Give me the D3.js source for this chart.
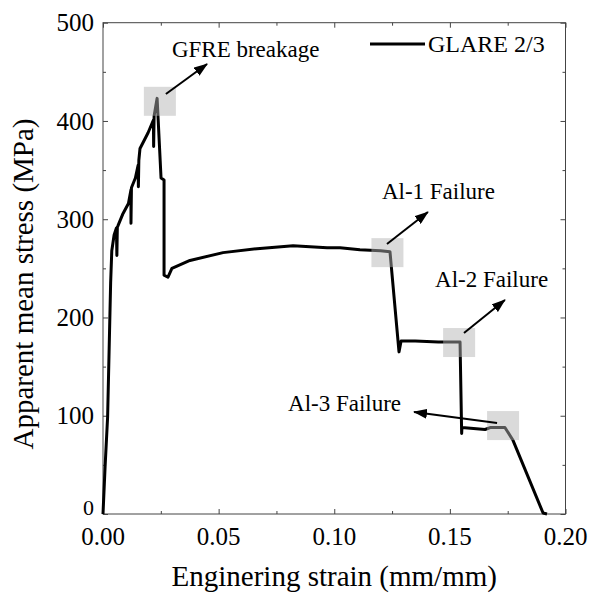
<!DOCTYPE html>
<html><head><meta charset="utf-8">
<script src="https://cdn.jsdelivr.net/npm/d3@7"></script>
<style>
body{margin:0;background:#fff}
svg{display:block}
text{font-family:"Liberation Serif","Times New Roman",serif;fill:#000}
</style>
</head><body>
<svg id="c" width="589" height="593"></svg>
<script>
// ---- data ----
const strain = [0, 0.0009, 0.002, 0.0033, 0.0038, 0.0048, 0.0058, 0.0060, 0.0062, 0.0064, 0.0085, 0.0110, 0.0121, 0.0121, 0.0123,
  0.0140, 0.0152, 0.0153, 0.0155, 0.0160, 0.0195, 0.0218, 0.0219, 0.0221, 0.0234,
  0.0251, 0.0264, 0.0264, 0.0281, 0.0298, 0.0376, 0.0519, 0.0666, 0.0822, 0.0969, 0.1025,
  0.1111, 0.1200, 0.1241, 0.1280, 0.1289, 0.1350, 0.1450, 0.1544, 0.1551, 0.1552, 0.1652, 0.1674, 0.1738, 0.1773, 0.1903, 0.1920];
const stress = [0, 48, 99, 235, 268, 284, 291, 263, 292, 293, 305, 316, 330, 296, 332,
  342, 355, 333, 360, 372, 388, 401, 374, 405, 423,
  342, 340, 243, 241, 250, 258, 266, 270, 273, 271, 271,
  269, 268, 267, 165, 176, 176, 175, 175, 82, 88, 86, 88, 88, 75, 1, 0];
const seriesName = "GLARE 2/3";
const xTickValues = [0, 0.05, 0.10, 0.15, 0.20];
const xMinorTicks = [0.025, 0.075, 0.125, 0.175];
const yTickValues = [0, 100, 200, 300, 400, 500];
const yMinorTicks = [50, 150, 250, 350, 450];
const xTitle = "Enginering strain (mm/mm)";
const yTitle = "Apparent mean stress (MPa)";
// annotations: label, label anchor (strain, stress), arrow from -> to, highlight box centre
const annLabels = ["GFRE breakage", "Al-1 Failure", "Al-2 Failure", "Al-3 Failure"];
const annLabelX = [0.0298, 0.1206, 0.1436, 0.1289];
const annLabelY = [465, 320.6, 231, 104.8];
const annAnchor = ["start", "start", "start", "end"];
const arrowFromX = [0.0272, 0.1228, 0.1561, 0.1704];
const arrowFromY = [427.4, 274.8, 184.2, 92.6];
const arrowToX = [0.0450, 0.1405, 0.1738, 0.1345];
const arrowToY = [458, 307.3, 217.8, 103.8];
const boxX = [0.0246, 0.1230, 0.1540, 0.1730];
const boxY = [420, 266, 174.5, 90];

// ---- layout ----
const L = 103, R = 565.5, T = 22.7, B = 514;
const svg = d3.select("#c");
const x = d3.scaleLinear().domain([0, 0.2]).range([L, R]);
const y = d3.scaleLinear().domain([0, 500]).range([B, T]);

// frame
svg.append("rect").attr("x", L).attr("y", T).attr("width", R - L).attr("height", B - T)
  .attr("fill", "none").attr("stroke", "#444").attr("stroke-width", 1);

function ticks(axisGen, vals, size, tr) {
  const g = svg.append("g").attr("transform", tr)
    .call(axisGen.tickValues(vals).tickSizeInner(size).tickSizeOuter(0).tickFormat(""));
  g.select(".domain").remove();
  g.selectAll(".tick line").attr("stroke", "#444");
  return g;
}
// inward ticks on all four sides
ticks(d3.axisBottom(x), xTickValues, -5, `translate(0,${B})`);
ticks(d3.axisBottom(x), xMinorTicks, -3, `translate(0,${B})`);
ticks(d3.axisTop(x), xTickValues, -5, `translate(0,${T})`);
ticks(d3.axisTop(x), xMinorTicks, -3, `translate(0,${T})`);
ticks(d3.axisLeft(y), yTickValues, -5, `translate(${L},0)`);
ticks(d3.axisLeft(y), yMinorTicks, -3, `translate(${L},0)`);
ticks(d3.axisRight(y), yTickValues, -5, `translate(${R},0)`);
ticks(d3.axisRight(y), yMinorTicks, -3, `translate(${R},0)`);

// tick labels
svg.append("g").selectAll("text").data(xTickValues).join("text")
  .attr("x", d => x(d)).attr("y", B + 31).attr("text-anchor", "middle")
  .attr("font-size", 25).text(d => d3.format(".2f")(d));
svg.append("g").selectAll("text").data(yTickValues).join("text")
  .attr("x", L - 9).attr("y", d => d === 0 ? y(d) + 1 : y(d)).attr("dy", d => d === 0 ? "0em" : "0.35em")
  .attr("text-anchor", "end")
  .attr("font-size", d => d === 0 ? 22 : 25).text(d => d);

// titles
svg.append("text").attr("x", (L + R) / 2).attr("y", 586).attr("text-anchor", "middle")
  .attr("font-size", 29).text(xTitle);
svg.append("text").attr("transform", `translate(33,284) rotate(-90)`).attr("text-anchor", "middle")
  .attr("font-size", 29).text(yTitle);

// curve
const pts = strain.map((s, i) => [s, stress[i]]);
svg.append("path").datum(pts)
  .attr("d", d3.line().x(d => x(d[0])).y(d => y(d[1])))
  .attr("fill", "none").attr("stroke", "#000").attr("stroke-width", 3).attr("stroke-linejoin", "round");

// highlight boxes
svg.append("g").selectAll("rect").data(boxX).join("rect")
  .attr("x", (d, i) => x(d) - 16).attr("y", (d, i) => y(boxY[i]) - 14.5)
  .attr("width", 32).attr("height", 29)
  .attr("fill", "#b1b1b1").attr("fill-opacity", 0.48);

// arrows
const defs = svg.append("defs");
defs.append("marker").attr("id", "ah").attr("viewBox", "0 0 14 10").attr("refX", 13).attr("refY", 5)
  .attr("markerWidth", 14).attr("markerHeight", 10).attr("markerUnits", "userSpaceOnUse").attr("orient", "auto")
  .append("path").attr("d", "M0,0 L14,5 L0,10 Z").attr("fill", "#000");
svg.append("g").selectAll("line").data(arrowFromX).join("line")
  .attr("x1", d => x(d)).attr("y1", (d, i) => y(arrowFromY[i]))
  .attr("x2", (d, i) => x(arrowToX[i])).attr("y2", (d, i) => y(arrowToY[i]))
  .attr("stroke", "#000").attr("stroke-width", 2).attr("marker-end", "url(#ah)");

// annotation labels
svg.append("g").selectAll("text").data(annLabels).join("text")
  .attr("x", (d, i) => x(annLabelX[i])).attr("y", (d, i) => y(annLabelY[i]))
  .attr("text-anchor", (d, i) => annAnchor[i]).attr("font-size", 23).text(d => d);

// legend
svg.append("line").attr("x1", 370).attr("x2", 425).attr("y1", 44).attr("y2", 44)
  .attr("stroke", "#000").attr("stroke-width", 3);
svg.append("text").attr("x", 428).attr("y", 52).attr("font-size", 24).text(seriesName);
</script>
</body></html>
